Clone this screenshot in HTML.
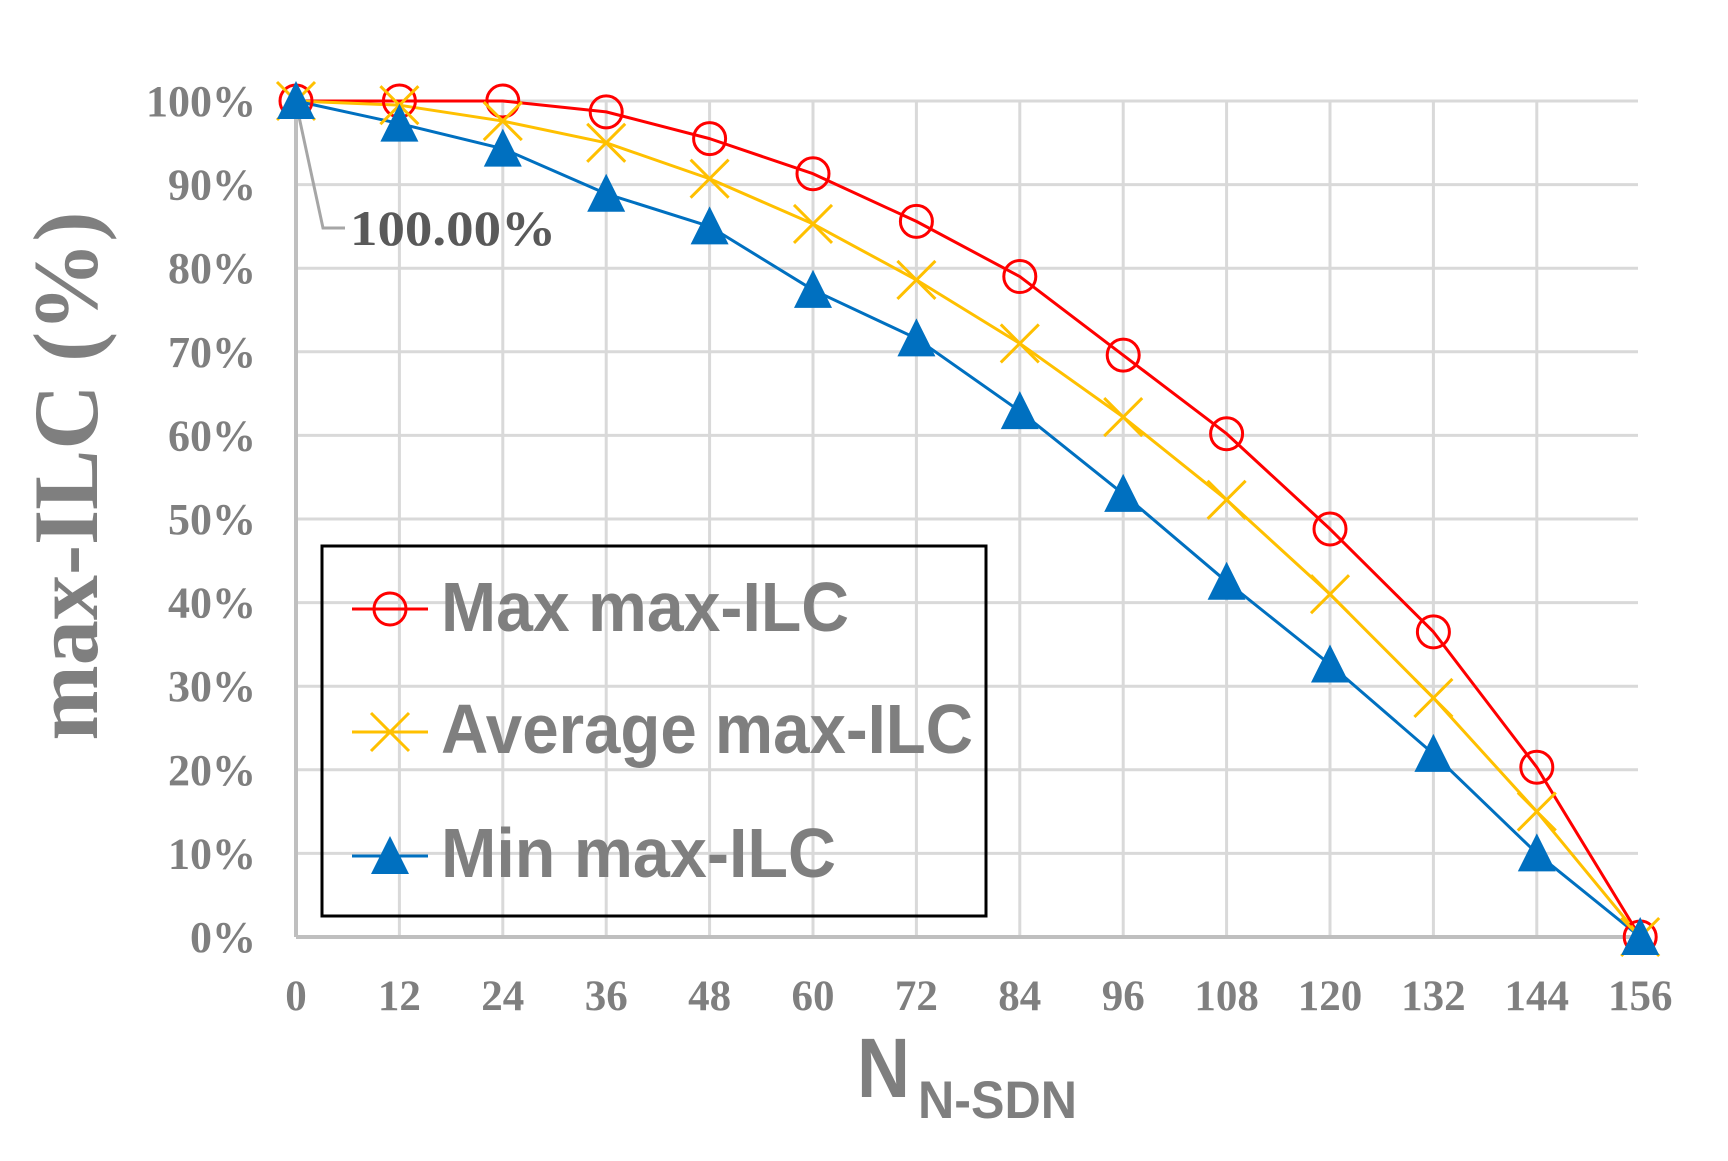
<!DOCTYPE html>
<html><head><meta charset="utf-8"><style>html,body{margin:0;padding:0;background:#fff}svg{display:block}</style></head>
<body>
<svg width="1728" height="1161" viewBox="0 0 1728 1161" xmlns="http://www.w3.org/2000/svg">
<rect width="1728" height="1161" fill="#fff"/>
<g id="grid" stroke="#d9d9d9" stroke-width="3"></g>
<line x1="296" y1="937" x2="1640" y2="937" stroke="#bfbfbf" stroke-width="4"/>
<line x1="296" y1="101" x2="296" y2="937" stroke="#bfbfbf" stroke-width="4"/>
<g id="ylab" font-family="Liberation Serif, serif" font-weight="bold" font-size="44" fill="#7f7f7f" text-anchor="end"></g>
<g id="xlab" font-family="Liberation Serif, serif" font-weight="bold" font-size="43" fill="#7f7f7f" text-anchor="middle"></g>
<text transform="translate(97,476) rotate(-90)" font-family="Liberation Serif, serif" font-weight="bold" font-size="92" fill="#7f7f7f" text-anchor="middle" textLength="529" lengthAdjust="spacingAndGlyphs">max-ILC (%)</text>
<text x="857" y="1097" font-family="Liberation Sans, sans-serif" font-weight="bold" font-size="84" fill="#7f7f7f" textLength="53" lengthAdjust="spacingAndGlyphs">N</text>
<text x="918" y="1118" font-family="Liberation Sans, sans-serif" font-weight="bold" font-size="53" fill="#7f7f7f" textLength="159" lengthAdjust="spacingAndGlyphs">N-SDN</text>
<polyline points="298,112 323,228 345,228" fill="none" stroke="#a6a6a6" stroke-width="3"/>
<text x="350" y="245" font-family="Liberation Serif, serif" font-weight="bold" font-size="50" fill="#595959" textLength="206" lengthAdjust="spacingAndGlyphs">100.00%</text>
<g id="series"></g>
<rect x="322" y="546" width="664" height="370" fill="none" stroke="#000" stroke-width="3"/>
<line x1="352" y1="609" x2="428" y2="609" stroke="#ff0000" stroke-width="3"/>
<circle cx="390" cy="609" r="16" fill="none" stroke="#ff0000" stroke-width="3"/>
<line x1="352" y1="732" x2="428" y2="732" stroke="#ffc000" stroke-width="3"/>
<path d="M371,713 L409,751 M371,751 L409,713" stroke="#ffc000" stroke-width="3"/>
<line x1="352" y1="856" x2="428" y2="856" stroke="#0070c0" stroke-width="3"/>
<polygon points="390,836 409,874 371,874" fill="#0070c0"/>
<g font-family="Liberation Sans, sans-serif" font-weight="bold" font-size="70" fill="#7f7f7f">
<text x="441" y="631" textLength="408" lengthAdjust="spacingAndGlyphs">Max max-ILC</text>
<text x="441" y="753" textLength="532" lengthAdjust="spacingAndGlyphs">Average max-ILC</text>
<text x="441" y="877" textLength="395" lengthAdjust="spacingAndGlyphs">Min max-ILC</text>
</g>
<script>
var ns="http://www.w3.org/2000/svg";
function X(i){return 296+i*103.4}
function Y(v){return 937-v*8.36}
function el(p,t,a){var e=document.createElementNS(ns,t);for(var k in a)e.setAttribute(k,a[k]);p.appendChild(e);return e}
var g=document.getElementById('grid');
for(var i=1;i<=10;i++)el(g,'line',{x1:296,x2:1638,y1:Y(i*10),y2:Y(i*10)});
for(var i=1;i<=12;i++)el(g,'line',{x1:X(i),x2:X(i),y1:Y(100),y2:937});
var yl=document.getElementById('ylab');
for(var i=0;i<=10;i++){var t=el(yl,'text',{x:256,y:Y(i*10)+15});t.textContent=(i*10)+'%';}
var xl=document.getElementById('xlab');
for(var i=0;i<=13;i++){var t=el(xl,'text',{x:X(i),y:1010});t.textContent=i*12;}
var mx=[100,100,100,98.7,95.5,91.3,85.6,79,69.6,60.2,48.8,36.5,20.3,0];
var av=[100,99.5,97.6,95,90.7,85.3,78.6,71,62.2,52.3,41,28.6,15,0];
var mn=[100,97.3,94.3,88.9,85,77.4,71.6,62.9,53,42.5,32.6,21.9,10,0];
var s=document.getElementById('series');
function pl(d,c){el(s,'polyline',{points:d.map(function(v,i){return X(i)+','+Y(v)}).join(' '),fill:'none',stroke:c,'stroke-width':3,'stroke-linejoin':'round'});}
pl(mx,'#ff0000');pl(av,'#ffc000');pl(mn,'#0070c0');
mx.forEach(function(v,i){el(s,'circle',{cx:X(i),cy:Y(v),r:16,fill:'none',stroke:'#ff0000','stroke-width':3})});
av.forEach(function(v,i){var x=X(i),y=Y(v);el(s,'path',{d:'M'+(x-19)+','+(y-19)+'L'+(x+19)+','+(y+19)+'M'+(x-19)+','+(y+19)+'L'+(x+19)+','+(y-19),stroke:'#ffc000','stroke-width':3})});
mn.forEach(function(v,i){var x=X(i),y=Y(v);el(s,'polygon',{points:x+','+(y-20)+' '+(x+19)+','+(y+18)+' '+(x-19)+','+(y+18),fill:'#0070c0'})});
</script>
</svg>
</body></html>
